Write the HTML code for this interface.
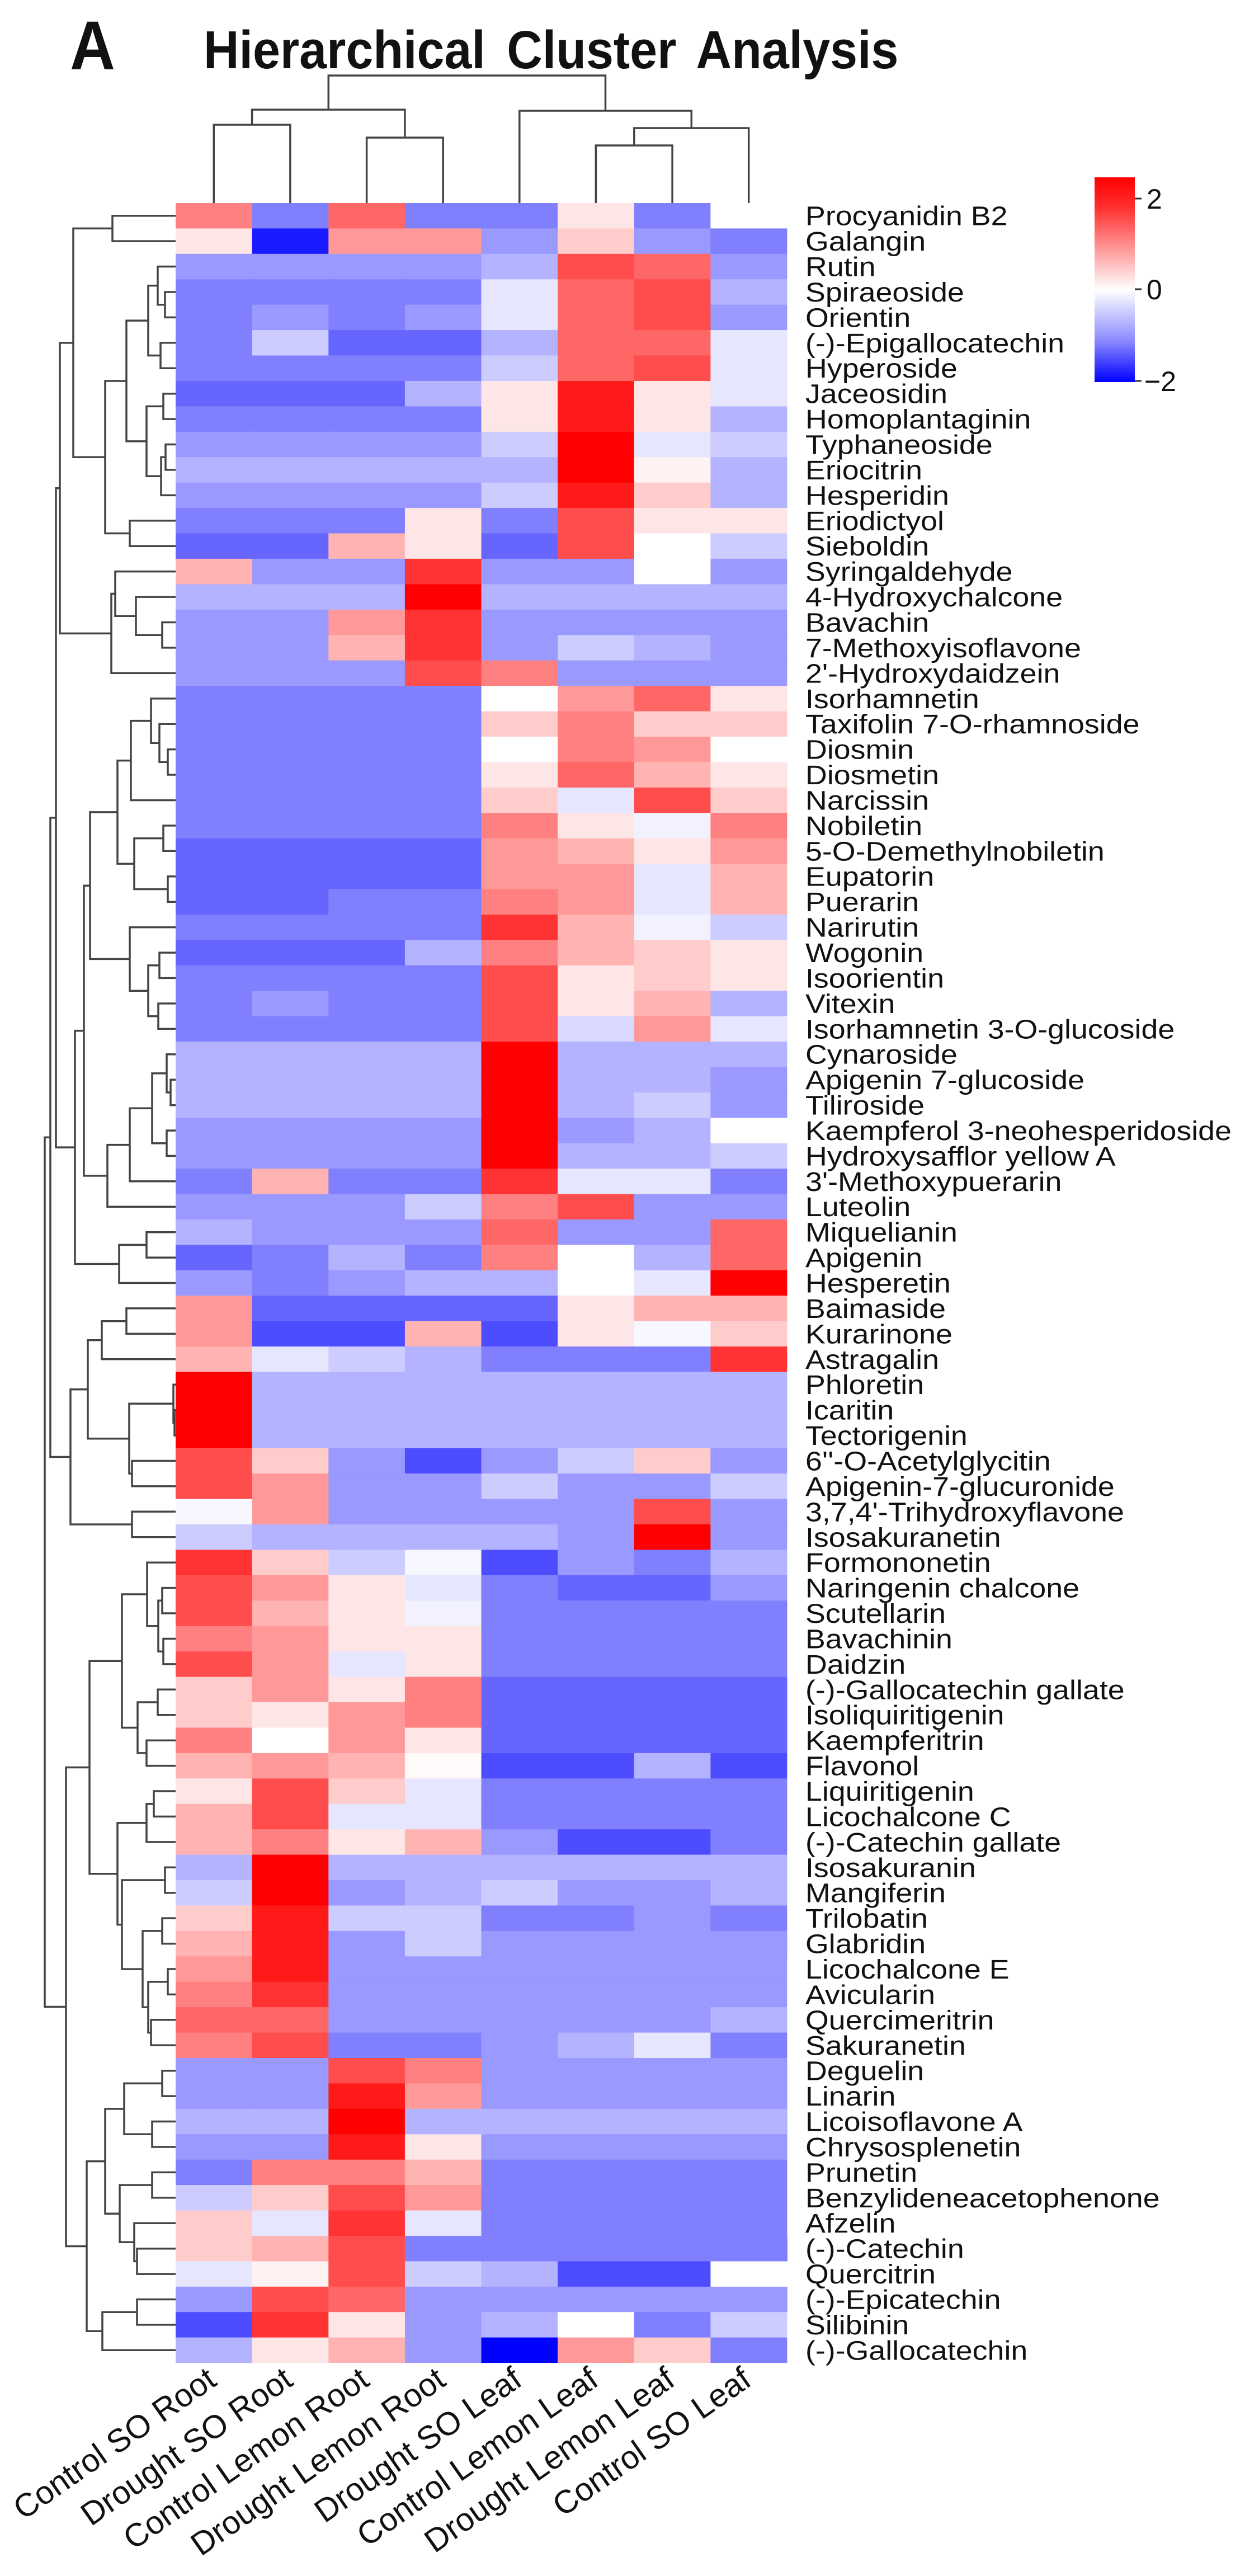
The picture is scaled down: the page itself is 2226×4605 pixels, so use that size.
<!DOCTYPE html>
<html><head><meta charset="utf-8">
<style>
html,body{margin:0;padding:0;background:#fff;}
svg{display:block;}
text{font-family:"Liberation Sans",Arial,sans-serif;fill:#111;}
.r10{fill:#ff0000}.r9{fill:#ff1a1a}.r8{fill:#ff3333}.r7{fill:#ff4d4d}.r6{fill:#ff6666}.r5{fill:#ff8080}.r4{fill:#ff9999}.r3{fill:#ffb3b3}.r2{fill:#ffcccc}.r1{fill:#ffe6e6}.rh{fill:#fff2f2}.wr{fill:#fffafa}.w{fill:#ffffff}.wb{fill:#f7f7ff}.bh{fill:#f2f2ff}.b1{fill:#e6e6ff}.b15{fill:#d9d9ff}.b2{fill:#ccccff}.b3{fill:#b3b3ff}.b4{fill:#9999ff}.b5{fill:#8080ff}.b6{fill:#6666ff}.b7{fill:#4d4dff}.b9{fill:#1a1aff}.b10{fill:#0000ff}
.L{font-size:48px}
.C{font-size:58px}
</style></head>
<body>
<svg xmlns="http://www.w3.org/2000/svg" width="2226" height="4605" viewBox="0 0 2226 4605">
<defs>
<linearGradient id="cb" x1="0" y1="0" x2="0" y2="1">
<stop offset="0" stop-color="#ff0000"/>
<stop offset="0.15" stop-color="#ff3030"/>
<stop offset="0.55" stop-color="#ffffff"/>
<stop offset="0.8" stop-color="#8a8aff"/>
<stop offset="1" stop-color="#0000ff"/>
</linearGradient>
</defs>
<rect width="2226" height="4605" fill="#fff"/>
<text x="125" y="123" font-size="112" font-weight="bold" transform="translate(0,-12) scale(1,1.1)">A</text>
<text x="364" y="112" font-size="88" font-weight="bold" word-spacing="14" transform="scale(1,1.09)">Hierarchical Cluster Analysis</text>
<rect x="1957" y="317" width="72" height="366" fill="url(#cb)"/>
<g stroke="#333" stroke-width="3">
<line x1="2029" y1="355" x2="2041" y2="355"/>
<line x1="2029" y1="517" x2="2041" y2="517"/>
<line x1="2029" y1="681" x2="2041" y2="681"/>
</g>
<text x="2050" y="373" font-size="50">2</text>
<text x="2050" y="535" font-size="50">0</text>
<text x="2046" y="699" font-size="50">−2</text>

<g transform="translate(0,363.0)"><rect x="314" width="138" height="46" class="r5"/><rect x="450.6" width="138" height="46" class="b5"/><rect x="587.3" width="138" height="46" class="r6"/><rect x="723.9" width="138" height="46" class="b5"/><rect x="860.5" width="138" height="46" class="b5"/><rect x="997.1" width="138" height="46" class="r1"/><rect x="1133.8" width="138" height="46" class="b5"/><rect x="1270.4" width="137" height="46" class="w"/><text class="L" transform="translate(1440,39.7) scale(1.12,1)">Procyanidin B2</text></g>
<g transform="translate(0,408.4)"><rect x="314" width="138" height="46" class="r1"/><rect x="450.6" width="138" height="46" class="b9"/><rect x="587.3" width="138" height="46" class="r4"/><rect x="723.9" width="138" height="46" class="r4"/><rect x="860.5" width="138" height="46" class="b4"/><rect x="997.1" width="138" height="46" class="r2"/><rect x="1133.8" width="138" height="46" class="b4"/><rect x="1270.4" width="137" height="46" class="b5"/><text class="L" transform="translate(1440,39.7) scale(1.12,1)">Galangin</text></g>
<g transform="translate(0,453.8)"><rect x="314" width="138" height="46" class="b4"/><rect x="450.6" width="138" height="46" class="b4"/><rect x="587.3" width="138" height="46" class="b4"/><rect x="723.9" width="138" height="46" class="b4"/><rect x="860.5" width="138" height="46" class="b3"/><rect x="997.1" width="138" height="46" class="r7"/><rect x="1133.8" width="138" height="46" class="r6"/><rect x="1270.4" width="137" height="46" class="b4"/><text class="L" transform="translate(1440,39.7) scale(1.12,1)">Rutin</text></g>
<g transform="translate(0,499.3)"><rect x="314" width="138" height="46" class="b5"/><rect x="450.6" width="138" height="46" class="b5"/><rect x="587.3" width="138" height="46" class="b5"/><rect x="723.9" width="138" height="46" class="b5"/><rect x="860.5" width="138" height="46" class="b1"/><rect x="997.1" width="138" height="46" class="r6"/><rect x="1133.8" width="138" height="46" class="r7"/><rect x="1270.4" width="137" height="46" class="b3"/><text class="L" transform="translate(1440,39.7) scale(1.12,1)">Spiraeoside</text></g>
<g transform="translate(0,544.7)"><rect x="314" width="138" height="46" class="b5"/><rect x="450.6" width="138" height="46" class="b4"/><rect x="587.3" width="138" height="46" class="b5"/><rect x="723.9" width="138" height="46" class="b4"/><rect x="860.5" width="138" height="46" class="b1"/><rect x="997.1" width="138" height="46" class="r6"/><rect x="1133.8" width="138" height="46" class="r7"/><rect x="1270.4" width="137" height="46" class="b4"/><text class="L" transform="translate(1440,39.7) scale(1.12,1)">Orientin</text></g>
<g transform="translate(0,590.1)"><rect x="314" width="138" height="46" class="b5"/><rect x="450.6" width="138" height="46" class="b2"/><rect x="587.3" width="138" height="46" class="b6"/><rect x="723.9" width="138" height="46" class="b6"/><rect x="860.5" width="138" height="46" class="b3"/><rect x="997.1" width="138" height="46" class="r6"/><rect x="1133.8" width="138" height="46" class="r6"/><rect x="1270.4" width="137" height="46" class="b1"/><text class="L" transform="translate(1440,39.7) scale(1.12,1)">(-)-Epigallocatechin</text></g>
<g transform="translate(0,635.5)"><rect x="314" width="138" height="46" class="b5"/><rect x="450.6" width="138" height="46" class="b5"/><rect x="587.3" width="138" height="46" class="b5"/><rect x="723.9" width="138" height="46" class="b5"/><rect x="860.5" width="138" height="46" class="b2"/><rect x="997.1" width="138" height="46" class="r6"/><rect x="1133.8" width="138" height="46" class="r7"/><rect x="1270.4" width="137" height="46" class="b1"/><text class="L" transform="translate(1440,39.7) scale(1.12,1)">Hyperoside</text></g>
<g transform="translate(0,681.0)"><rect x="314" width="138" height="46" class="b6"/><rect x="450.6" width="138" height="46" class="b6"/><rect x="587.3" width="138" height="46" class="b6"/><rect x="723.9" width="138" height="46" class="b3"/><rect x="860.5" width="138" height="46" class="r1"/><rect x="997.1" width="138" height="46" class="r9"/><rect x="1133.8" width="138" height="46" class="r1"/><rect x="1270.4" width="137" height="46" class="b1"/><text class="L" transform="translate(1440,39.7) scale(1.12,1)">Jaceosidin</text></g>
<g transform="translate(0,726.4)"><rect x="314" width="138" height="46" class="b5"/><rect x="450.6" width="138" height="46" class="b5"/><rect x="587.3" width="138" height="46" class="b5"/><rect x="723.9" width="138" height="46" class="b5"/><rect x="860.5" width="138" height="46" class="r1"/><rect x="997.1" width="138" height="46" class="r9"/><rect x="1133.8" width="138" height="46" class="r1"/><rect x="1270.4" width="137" height="46" class="b3"/><text class="L" transform="translate(1440,39.7) scale(1.12,1)">Homoplantaginin</text></g>
<g transform="translate(0,771.8)"><rect x="314" width="138" height="46" class="b4"/><rect x="450.6" width="138" height="46" class="b4"/><rect x="587.3" width="138" height="46" class="b4"/><rect x="723.9" width="138" height="46" class="b4"/><rect x="860.5" width="138" height="46" class="b2"/><rect x="997.1" width="138" height="46" class="r10"/><rect x="1133.8" width="138" height="46" class="b1"/><rect x="1270.4" width="137" height="46" class="b2"/><text class="L" transform="translate(1440,39.7) scale(1.12,1)">Typhaneoside</text></g>
<g transform="translate(0,817.2)"><rect x="314" width="138" height="46" class="b3"/><rect x="450.6" width="138" height="46" class="b3"/><rect x="587.3" width="138" height="46" class="b3"/><rect x="723.9" width="138" height="46" class="b3"/><rect x="860.5" width="138" height="46" class="b3"/><rect x="997.1" width="138" height="46" class="r10"/><rect x="1133.8" width="138" height="46" class="rh"/><rect x="1270.4" width="137" height="46" class="b3"/><text class="L" transform="translate(1440,39.7) scale(1.12,1)">Eriocitrin</text></g>
<g transform="translate(0,862.7)"><rect x="314" width="138" height="46" class="b4"/><rect x="450.6" width="138" height="46" class="b4"/><rect x="587.3" width="138" height="46" class="b4"/><rect x="723.9" width="138" height="46" class="b4"/><rect x="860.5" width="138" height="46" class="b2"/><rect x="997.1" width="138" height="46" class="r9"/><rect x="1133.8" width="138" height="46" class="r2"/><rect x="1270.4" width="137" height="46" class="b3"/><text class="L" transform="translate(1440,39.7) scale(1.12,1)">Hesperidin</text></g>
<g transform="translate(0,908.1)"><rect x="314" width="138" height="46" class="b5"/><rect x="450.6" width="138" height="46" class="b5"/><rect x="587.3" width="138" height="46" class="b5"/><rect x="723.9" width="138" height="46" class="r1"/><rect x="860.5" width="138" height="46" class="b5"/><rect x="997.1" width="138" height="46" class="r7"/><rect x="1133.8" width="138" height="46" class="r1"/><rect x="1270.4" width="137" height="46" class="r1"/><text class="L" transform="translate(1440,39.7) scale(1.12,1)">Eriodictyol</text></g>
<g transform="translate(0,953.5)"><rect x="314" width="138" height="46" class="b6"/><rect x="450.6" width="138" height="46" class="b6"/><rect x="587.3" width="138" height="46" class="r3"/><rect x="723.9" width="138" height="46" class="r1"/><rect x="860.5" width="138" height="46" class="b6"/><rect x="997.1" width="138" height="46" class="r7"/><rect x="1133.8" width="138" height="46" class="w"/><rect x="1270.4" width="137" height="46" class="b2"/><text class="L" transform="translate(1440,39.7) scale(1.12,1)">Sieboldin</text></g>
<g transform="translate(0,998.9)"><rect x="314" width="138" height="46" class="r3"/><rect x="450.6" width="138" height="46" class="b4"/><rect x="587.3" width="138" height="46" class="b4"/><rect x="723.9" width="138" height="46" class="r8"/><rect x="860.5" width="138" height="46" class="b4"/><rect x="997.1" width="138" height="46" class="b4"/><rect x="1133.8" width="138" height="46" class="w"/><rect x="1270.4" width="137" height="46" class="b4"/><text class="L" transform="translate(1440,39.7) scale(1.12,1)">Syringaldehyde</text></g>
<g transform="translate(0,1044.4)"><rect x="314" width="138" height="46" class="b3"/><rect x="450.6" width="138" height="46" class="b3"/><rect x="587.3" width="138" height="46" class="b3"/><rect x="723.9" width="138" height="46" class="r10"/><rect x="860.5" width="138" height="46" class="b3"/><rect x="997.1" width="138" height="46" class="b3"/><rect x="1133.8" width="138" height="46" class="b3"/><rect x="1270.4" width="137" height="46" class="b3"/><text class="L" transform="translate(1440,39.7) scale(1.12,1)">4-Hydroxychalcone</text></g>
<g transform="translate(0,1089.8)"><rect x="314" width="138" height="46" class="b4"/><rect x="450.6" width="138" height="46" class="b4"/><rect x="587.3" width="138" height="46" class="r4"/><rect x="723.9" width="138" height="46" class="r8"/><rect x="860.5" width="138" height="46" class="b4"/><rect x="997.1" width="138" height="46" class="b4"/><rect x="1133.8" width="138" height="46" class="b4"/><rect x="1270.4" width="137" height="46" class="b4"/><text class="L" transform="translate(1440,39.7) scale(1.12,1)">Bavachin</text></g>
<g transform="translate(0,1135.2)"><rect x="314" width="138" height="46" class="b4"/><rect x="450.6" width="138" height="46" class="b4"/><rect x="587.3" width="138" height="46" class="r3"/><rect x="723.9" width="138" height="46" class="r8"/><rect x="860.5" width="138" height="46" class="b4"/><rect x="997.1" width="138" height="46" class="b2"/><rect x="1133.8" width="138" height="46" class="b3"/><rect x="1270.4" width="137" height="46" class="b4"/><text class="L" transform="translate(1440,39.7) scale(1.12,1)">7-Methoxyisoflavone</text></g>
<g transform="translate(0,1180.6)"><rect x="314" width="138" height="46" class="b4"/><rect x="450.6" width="138" height="46" class="b4"/><rect x="587.3" width="138" height="46" class="b4"/><rect x="723.9" width="138" height="46" class="r7"/><rect x="860.5" width="138" height="46" class="r5"/><rect x="997.1" width="138" height="46" class="b4"/><rect x="1133.8" width="138" height="46" class="b4"/><rect x="1270.4" width="137" height="46" class="b4"/><text class="L" transform="translate(1440,39.7) scale(1.12,1)">2'-Hydroxydaidzein</text></g>
<g transform="translate(0,1226.1)"><rect x="314" width="138" height="46" class="b5"/><rect x="450.6" width="138" height="46" class="b5"/><rect x="587.3" width="138" height="46" class="b5"/><rect x="723.9" width="138" height="46" class="b5"/><rect x="860.5" width="138" height="46" class="w"/><rect x="997.1" width="138" height="46" class="r4"/><rect x="1133.8" width="138" height="46" class="r6"/><rect x="1270.4" width="137" height="46" class="r1"/><text class="L" transform="translate(1440,39.7) scale(1.12,1)">Isorhamnetin</text></g>
<g transform="translate(0,1271.5)"><rect x="314" width="138" height="46" class="b5"/><rect x="450.6" width="138" height="46" class="b5"/><rect x="587.3" width="138" height="46" class="b5"/><rect x="723.9" width="138" height="46" class="b5"/><rect x="860.5" width="138" height="46" class="r2"/><rect x="997.1" width="138" height="46" class="r5"/><rect x="1133.8" width="138" height="46" class="r2"/><rect x="1270.4" width="137" height="46" class="r2"/><text class="L" transform="translate(1440,39.7) scale(1.12,1)">Taxifolin 7-O-rhamnoside</text></g>
<g transform="translate(0,1316.9)"><rect x="314" width="138" height="46" class="b5"/><rect x="450.6" width="138" height="46" class="b5"/><rect x="587.3" width="138" height="46" class="b5"/><rect x="723.9" width="138" height="46" class="b5"/><rect x="860.5" width="138" height="46" class="w"/><rect x="997.1" width="138" height="46" class="r5"/><rect x="1133.8" width="138" height="46" class="r4"/><rect x="1270.4" width="137" height="46" class="w"/><text class="L" transform="translate(1440,39.7) scale(1.12,1)">Diosmin</text></g>
<g transform="translate(0,1362.3)"><rect x="314" width="138" height="46" class="b5"/><rect x="450.6" width="138" height="46" class="b5"/><rect x="587.3" width="138" height="46" class="b5"/><rect x="723.9" width="138" height="46" class="b5"/><rect x="860.5" width="138" height="46" class="r1"/><rect x="997.1" width="138" height="46" class="r6"/><rect x="1133.8" width="138" height="46" class="r3"/><rect x="1270.4" width="137" height="46" class="r1"/><text class="L" transform="translate(1440,39.7) scale(1.12,1)">Diosmetin</text></g>
<g transform="translate(0,1407.8)"><rect x="314" width="138" height="46" class="b5"/><rect x="450.6" width="138" height="46" class="b5"/><rect x="587.3" width="138" height="46" class="b5"/><rect x="723.9" width="138" height="46" class="b5"/><rect x="860.5" width="138" height="46" class="r2"/><rect x="997.1" width="138" height="46" class="b1"/><rect x="1133.8" width="138" height="46" class="r7"/><rect x="1270.4" width="137" height="46" class="r2"/><text class="L" transform="translate(1440,39.7) scale(1.12,1)">Narcissin</text></g>
<g transform="translate(0,1453.2)"><rect x="314" width="138" height="46" class="b5"/><rect x="450.6" width="138" height="46" class="b5"/><rect x="587.3" width="138" height="46" class="b5"/><rect x="723.9" width="138" height="46" class="b5"/><rect x="860.5" width="138" height="46" class="r5"/><rect x="997.1" width="138" height="46" class="r1"/><rect x="1133.8" width="138" height="46" class="bh"/><rect x="1270.4" width="137" height="46" class="r5"/><text class="L" transform="translate(1440,39.7) scale(1.12,1)">Nobiletin</text></g>
<g transform="translate(0,1498.6)"><rect x="314" width="138" height="46" class="b6"/><rect x="450.6" width="138" height="46" class="b6"/><rect x="587.3" width="138" height="46" class="b6"/><rect x="723.9" width="138" height="46" class="b6"/><rect x="860.5" width="138" height="46" class="r4"/><rect x="997.1" width="138" height="46" class="r3"/><rect x="1133.8" width="138" height="46" class="r1"/><rect x="1270.4" width="137" height="46" class="r4"/><text class="L" transform="translate(1440,39.7) scale(1.12,1)">5-O-Demethylnobiletin</text></g>
<g transform="translate(0,1544.0)"><rect x="314" width="138" height="46" class="b6"/><rect x="450.6" width="138" height="46" class="b6"/><rect x="587.3" width="138" height="46" class="b6"/><rect x="723.9" width="138" height="46" class="b6"/><rect x="860.5" width="138" height="46" class="r4"/><rect x="997.1" width="138" height="46" class="r4"/><rect x="1133.8" width="138" height="46" class="b1"/><rect x="1270.4" width="137" height="46" class="r3"/><text class="L" transform="translate(1440,39.7) scale(1.12,1)">Eupatorin</text></g>
<g transform="translate(0,1589.5)"><rect x="314" width="138" height="46" class="b6"/><rect x="450.6" width="138" height="46" class="b6"/><rect x="587.3" width="138" height="46" class="b5"/><rect x="723.9" width="138" height="46" class="b5"/><rect x="860.5" width="138" height="46" class="r5"/><rect x="997.1" width="138" height="46" class="r4"/><rect x="1133.8" width="138" height="46" class="b1"/><rect x="1270.4" width="137" height="46" class="r3"/><text class="L" transform="translate(1440,39.7) scale(1.12,1)">Puerarin</text></g>
<g transform="translate(0,1634.9)"><rect x="314" width="138" height="46" class="b5"/><rect x="450.6" width="138" height="46" class="b5"/><rect x="587.3" width="138" height="46" class="b5"/><rect x="723.9" width="138" height="46" class="b5"/><rect x="860.5" width="138" height="46" class="r8"/><rect x="997.1" width="138" height="46" class="r3"/><rect x="1133.8" width="138" height="46" class="bh"/><rect x="1270.4" width="137" height="46" class="b2"/><text class="L" transform="translate(1440,39.7) scale(1.12,1)">Narirutin</text></g>
<g transform="translate(0,1680.3)"><rect x="314" width="138" height="46" class="b6"/><rect x="450.6" width="138" height="46" class="b6"/><rect x="587.3" width="138" height="46" class="b6"/><rect x="723.9" width="138" height="46" class="b3"/><rect x="860.5" width="138" height="46" class="r5"/><rect x="997.1" width="138" height="46" class="r3"/><rect x="1133.8" width="138" height="46" class="r2"/><rect x="1270.4" width="137" height="46" class="r1"/><text class="L" transform="translate(1440,39.7) scale(1.12,1)">Wogonin</text></g>
<g transform="translate(0,1725.7)"><rect x="314" width="138" height="46" class="b5"/><rect x="450.6" width="138" height="46" class="b5"/><rect x="587.3" width="138" height="46" class="b5"/><rect x="723.9" width="138" height="46" class="b5"/><rect x="860.5" width="138" height="46" class="r7"/><rect x="997.1" width="138" height="46" class="r1"/><rect x="1133.8" width="138" height="46" class="r2"/><rect x="1270.4" width="137" height="46" class="r1"/><text class="L" transform="translate(1440,39.7) scale(1.12,1)">Isoorientin</text></g>
<g transform="translate(0,1771.2)"><rect x="314" width="138" height="46" class="b5"/><rect x="450.6" width="138" height="46" class="b4"/><rect x="587.3" width="138" height="46" class="b5"/><rect x="723.9" width="138" height="46" class="b5"/><rect x="860.5" width="138" height="46" class="r7"/><rect x="997.1" width="138" height="46" class="r1"/><rect x="1133.8" width="138" height="46" class="r3"/><rect x="1270.4" width="137" height="46" class="b3"/><text class="L" transform="translate(1440,39.7) scale(1.12,1)">Vitexin</text></g>
<g transform="translate(0,1816.6)"><rect x="314" width="138" height="46" class="b5"/><rect x="450.6" width="138" height="46" class="b5"/><rect x="587.3" width="138" height="46" class="b5"/><rect x="723.9" width="138" height="46" class="b5"/><rect x="860.5" width="138" height="46" class="r7"/><rect x="997.1" width="138" height="46" class="b15"/><rect x="1133.8" width="138" height="46" class="r4"/><rect x="1270.4" width="137" height="46" class="b1"/><text class="L" transform="translate(1440,39.7) scale(1.12,1)">Isorhamnetin 3-O-glucoside</text></g>
<g transform="translate(0,1862.0)"><rect x="314" width="138" height="46" class="b3"/><rect x="450.6" width="138" height="46" class="b3"/><rect x="587.3" width="138" height="46" class="b3"/><rect x="723.9" width="138" height="46" class="b3"/><rect x="860.5" width="138" height="46" class="r10"/><rect x="997.1" width="138" height="46" class="b3"/><rect x="1133.8" width="138" height="46" class="b3"/><rect x="1270.4" width="137" height="46" class="b3"/><text class="L" transform="translate(1440,39.7) scale(1.12,1)">Cynaroside</text></g>
<g transform="translate(0,1907.4)"><rect x="314" width="138" height="46" class="b3"/><rect x="450.6" width="138" height="46" class="b3"/><rect x="587.3" width="138" height="46" class="b3"/><rect x="723.9" width="138" height="46" class="b3"/><rect x="860.5" width="138" height="46" class="r10"/><rect x="997.1" width="138" height="46" class="b3"/><rect x="1133.8" width="138" height="46" class="b3"/><rect x="1270.4" width="137" height="46" class="b4"/><text class="L" transform="translate(1440,39.7) scale(1.12,1)">Apigenin 7-glucoside</text></g>
<g transform="translate(0,1952.9)"><rect x="314" width="138" height="46" class="b3"/><rect x="450.6" width="138" height="46" class="b3"/><rect x="587.3" width="138" height="46" class="b3"/><rect x="723.9" width="138" height="46" class="b3"/><rect x="860.5" width="138" height="46" class="r10"/><rect x="997.1" width="138" height="46" class="b3"/><rect x="1133.8" width="138" height="46" class="b2"/><rect x="1270.4" width="137" height="46" class="b4"/><text class="L" transform="translate(1440,39.7) scale(1.12,1)">Tiliroside</text></g>
<g transform="translate(0,1998.3)"><rect x="314" width="138" height="46" class="b4"/><rect x="450.6" width="138" height="46" class="b4"/><rect x="587.3" width="138" height="46" class="b4"/><rect x="723.9" width="138" height="46" class="b4"/><rect x="860.5" width="138" height="46" class="r10"/><rect x="997.1" width="138" height="46" class="b4"/><rect x="1133.8" width="138" height="46" class="b3"/><rect x="1270.4" width="137" height="46" class="w"/><text class="L" transform="translate(1440,39.7) scale(1.12,1)">Kaempferol 3-neohesperidoside</text></g>
<g transform="translate(0,2043.7)"><rect x="314" width="138" height="46" class="b4"/><rect x="450.6" width="138" height="46" class="b4"/><rect x="587.3" width="138" height="46" class="b4"/><rect x="723.9" width="138" height="46" class="b4"/><rect x="860.5" width="138" height="46" class="r10"/><rect x="997.1" width="138" height="46" class="b3"/><rect x="1133.8" width="138" height="46" class="b3"/><rect x="1270.4" width="137" height="46" class="b2"/><text class="L" transform="translate(1440,39.7) scale(1.12,1)">Hydroxysafflor yellow A</text></g>
<g transform="translate(0,2089.1)"><rect x="314" width="138" height="46" class="b5"/><rect x="450.6" width="138" height="46" class="r3"/><rect x="587.3" width="138" height="46" class="b5"/><rect x="723.9" width="138" height="46" class="b5"/><rect x="860.5" width="138" height="46" class="r8"/><rect x="997.1" width="138" height="46" class="b1"/><rect x="1133.8" width="138" height="46" class="b1"/><rect x="1270.4" width="137" height="46" class="b5"/><text class="L" transform="translate(1440,39.7) scale(1.12,1)">3'-Methoxypuerarin</text></g>
<g transform="translate(0,2134.5)"><rect x="314" width="138" height="46" class="b4"/><rect x="450.6" width="138" height="46" class="b4"/><rect x="587.3" width="138" height="46" class="b4"/><rect x="723.9" width="138" height="46" class="b2"/><rect x="860.5" width="138" height="46" class="r5"/><rect x="997.1" width="138" height="46" class="r7"/><rect x="1133.8" width="138" height="46" class="b4"/><rect x="1270.4" width="137" height="46" class="b4"/><text class="L" transform="translate(1440,39.7) scale(1.12,1)">Luteolin</text></g>
<g transform="translate(0,2180.0)"><rect x="314" width="138" height="46" class="b3"/><rect x="450.6" width="138" height="46" class="b4"/><rect x="587.3" width="138" height="46" class="b4"/><rect x="723.9" width="138" height="46" class="b4"/><rect x="860.5" width="138" height="46" class="r6"/><rect x="997.1" width="138" height="46" class="b4"/><rect x="1133.8" width="138" height="46" class="b4"/><rect x="1270.4" width="137" height="46" class="r6"/><text class="L" transform="translate(1440,39.7) scale(1.12,1)">Miquelianin</text></g>
<g transform="translate(0,2225.4)"><rect x="314" width="138" height="46" class="b6"/><rect x="450.6" width="138" height="46" class="b5"/><rect x="587.3" width="138" height="46" class="b3"/><rect x="723.9" width="138" height="46" class="b5"/><rect x="860.5" width="138" height="46" class="r5"/><rect x="997.1" width="138" height="46" class="w"/><rect x="1133.8" width="138" height="46" class="b3"/><rect x="1270.4" width="137" height="46" class="r6"/><text class="L" transform="translate(1440,39.7) scale(1.12,1)">Apigenin</text></g>
<g transform="translate(0,2270.8)"><rect x="314" width="138" height="46" class="b4"/><rect x="450.6" width="138" height="46" class="b5"/><rect x="587.3" width="138" height="46" class="b4"/><rect x="723.9" width="138" height="46" class="b3"/><rect x="860.5" width="138" height="46" class="b3"/><rect x="997.1" width="138" height="46" class="w"/><rect x="1133.8" width="138" height="46" class="b1"/><rect x="1270.4" width="137" height="46" class="r10"/><text class="L" transform="translate(1440,39.7) scale(1.12,1)">Hesperetin</text></g>
<g transform="translate(0,2316.2)"><rect x="314" width="138" height="46" class="r4"/><rect x="450.6" width="138" height="46" class="b6"/><rect x="587.3" width="138" height="46" class="b6"/><rect x="723.9" width="138" height="46" class="b6"/><rect x="860.5" width="138" height="46" class="b6"/><rect x="997.1" width="138" height="46" class="r1"/><rect x="1133.8" width="138" height="46" class="r3"/><rect x="1270.4" width="137" height="46" class="r3"/><text class="L" transform="translate(1440,39.7) scale(1.12,1)">Baimaside</text></g>
<g transform="translate(0,2361.7)"><rect x="314" width="138" height="46" class="r4"/><rect x="450.6" width="138" height="46" class="b7"/><rect x="587.3" width="138" height="46" class="b7"/><rect x="723.9" width="138" height="46" class="r3"/><rect x="860.5" width="138" height="46" class="b7"/><rect x="997.1" width="138" height="46" class="r1"/><rect x="1133.8" width="138" height="46" class="wb"/><rect x="1270.4" width="137" height="46" class="r2"/><text class="L" transform="translate(1440,39.7) scale(1.12,1)">Kurarinone</text></g>
<g transform="translate(0,2407.1)"><rect x="314" width="138" height="46" class="r3"/><rect x="450.6" width="138" height="46" class="b1"/><rect x="587.3" width="138" height="46" class="b2"/><rect x="723.9" width="138" height="46" class="b3"/><rect x="860.5" width="138" height="46" class="b5"/><rect x="997.1" width="138" height="46" class="b5"/><rect x="1133.8" width="138" height="46" class="b5"/><rect x="1270.4" width="137" height="46" class="r8"/><text class="L" transform="translate(1440,39.7) scale(1.12,1)">Astragalin</text></g>
<g transform="translate(0,2452.5)"><rect x="314" width="138" height="46" class="r10"/><rect x="450.6" width="957" height="46" class="b3"/><text class="L" transform="translate(1440,39.7) scale(1.12,1)">Phloretin</text></g>
<g transform="translate(0,2497.9)"><rect x="314" width="138" height="46" class="r10"/><rect x="450.6" width="957" height="46" class="b3"/><text class="L" transform="translate(1440,39.7) scale(1.12,1)">Icaritin</text></g>
<g transform="translate(0,2543.4)"><rect x="314" width="138" height="46" class="r10"/><rect x="450.6" width="957" height="46" class="b3"/><text class="L" transform="translate(1440,39.7) scale(1.12,1)">Tectorigenin</text></g>
<g transform="translate(0,2588.8)"><rect x="314" width="138" height="46" class="r7"/><rect x="450.6" width="138" height="46" class="r2"/><rect x="587.3" width="138" height="46" class="b4"/><rect x="723.9" width="138" height="46" class="b7"/><rect x="860.5" width="138" height="46" class="b4"/><rect x="997.1" width="138" height="46" class="b2"/><rect x="1133.8" width="138" height="46" class="r2"/><rect x="1270.4" width="137" height="46" class="b4"/><text class="L" transform="translate(1440,39.7) scale(1.12,1)">6''-O-Acetylglycitin</text></g>
<g transform="translate(0,2634.2)"><rect x="314" width="138" height="46" class="r7"/><rect x="450.6" width="138" height="46" class="r4"/><rect x="587.3" width="138" height="46" class="b4"/><rect x="723.9" width="138" height="46" class="b4"/><rect x="860.5" width="138" height="46" class="b2"/><rect x="997.1" width="138" height="46" class="b4"/><rect x="1133.8" width="138" height="46" class="b4"/><rect x="1270.4" width="137" height="46" class="b2"/><text class="L" transform="translate(1440,39.7) scale(1.12,1)">Apigenin-7-glucuronide</text></g>
<g transform="translate(0,2679.6)"><rect x="314" width="138" height="46" class="wb"/><rect x="450.6" width="138" height="46" class="r4"/><rect x="587.3" width="138" height="46" class="b4"/><rect x="723.9" width="138" height="46" class="b4"/><rect x="860.5" width="138" height="46" class="b4"/><rect x="997.1" width="138" height="46" class="b4"/><rect x="1133.8" width="138" height="46" class="r7"/><rect x="1270.4" width="137" height="46" class="b4"/><text class="L" transform="translate(1440,39.7) scale(1.12,1)">3,7,4'-Trihydroxyflavone</text></g>
<g transform="translate(0,2725.1)"><rect x="314" width="138" height="46" class="b2"/><rect x="450.6" width="138" height="46" class="b3"/><rect x="587.3" width="138" height="46" class="b3"/><rect x="723.9" width="138" height="46" class="b3"/><rect x="860.5" width="138" height="46" class="b3"/><rect x="997.1" width="138" height="46" class="b4"/><rect x="1133.8" width="138" height="46" class="r10"/><rect x="1270.4" width="137" height="46" class="b4"/><text class="L" transform="translate(1440,39.7) scale(1.12,1)">Isosakuranetin</text></g>
<g transform="translate(0,2770.5)"><rect x="314" width="138" height="46" class="r8"/><rect x="450.6" width="138" height="46" class="r2"/><rect x="587.3" width="138" height="46" class="b2"/><rect x="723.9" width="138" height="46" class="wb"/><rect x="860.5" width="138" height="46" class="b7"/><rect x="997.1" width="138" height="46" class="b4"/><rect x="1133.8" width="138" height="46" class="b5"/><rect x="1270.4" width="137" height="46" class="b3"/><text class="L" transform="translate(1440,39.7) scale(1.12,1)">Formononetin</text></g>
<g transform="translate(0,2815.9)"><rect x="314" width="138" height="46" class="r7"/><rect x="450.6" width="138" height="46" class="r4"/><rect x="587.3" width="138" height="46" class="r1"/><rect x="723.9" width="138" height="46" class="b1"/><rect x="860.5" width="138" height="46" class="b5"/><rect x="997.1" width="138" height="46" class="b6"/><rect x="1133.8" width="138" height="46" class="b6"/><rect x="1270.4" width="137" height="46" class="b4"/><text class="L" transform="translate(1440,39.7) scale(1.12,1)">Naringenin chalcone</text></g>
<g transform="translate(0,2861.3)"><rect x="314" width="138" height="46" class="r7"/><rect x="450.6" width="138" height="46" class="r3"/><rect x="587.3" width="138" height="46" class="r1"/><rect x="723.9" width="138" height="46" class="bh"/><rect x="860.5" width="547" height="46" class="b5"/><text class="L" transform="translate(1440,39.7) scale(1.12,1)">Scutellarin</text></g>
<g transform="translate(0,2906.8)"><rect x="314" width="138" height="46" class="r5"/><rect x="450.6" width="138" height="46" class="r4"/><rect x="587.3" width="138" height="46" class="r1"/><rect x="723.9" width="138" height="46" class="r1"/><rect x="860.5" width="547" height="46" class="b5"/><text class="L" transform="translate(1440,39.7) scale(1.12,1)">Bavachinin</text></g>
<g transform="translate(0,2952.2)"><rect x="314" width="138" height="46" class="r7"/><rect x="450.6" width="138" height="46" class="r4"/><rect x="587.3" width="138" height="46" class="b1"/><rect x="723.9" width="138" height="46" class="r1"/><rect x="860.5" width="547" height="46" class="b5"/><text class="L" transform="translate(1440,39.7) scale(1.12,1)">Daidzin</text></g>
<g transform="translate(0,2997.6)"><rect x="314" width="138" height="46" class="r2"/><rect x="450.6" width="138" height="46" class="r4"/><rect x="587.3" width="138" height="46" class="r1"/><rect x="723.9" width="138" height="46" class="r5"/><rect x="860.5" width="547" height="46" class="b6"/><text class="L" transform="translate(1440,39.7) scale(1.12,1)">(-)-Gallocatechin gallate</text></g>
<g transform="translate(0,3043.0)"><rect x="314" width="138" height="46" class="r2"/><rect x="450.6" width="138" height="46" class="r1"/><rect x="587.3" width="138" height="46" class="r4"/><rect x="723.9" width="138" height="46" class="r5"/><rect x="860.5" width="547" height="46" class="b6"/><text class="L" transform="translate(1440,39.7) scale(1.12,1)">Isoliquiritigenin</text></g>
<g transform="translate(0,3088.5)"><rect x="314" width="138" height="46" class="r5"/><rect x="450.6" width="138" height="46" class="w"/><rect x="587.3" width="138" height="46" class="r4"/><rect x="723.9" width="138" height="46" class="r1"/><rect x="860.5" width="547" height="46" class="b6"/><text class="L" transform="translate(1440,39.7) scale(1.12,1)">Kaempferitrin</text></g>
<g transform="translate(0,3133.9)"><rect x="314" width="138" height="46" class="r3"/><rect x="450.6" width="138" height="46" class="r4"/><rect x="587.3" width="138" height="46" class="r3"/><rect x="723.9" width="138" height="46" class="wr"/><rect x="860.5" width="138" height="46" class="b7"/><rect x="997.1" width="138" height="46" class="b7"/><rect x="1133.8" width="138" height="46" class="b3"/><rect x="1270.4" width="137" height="46" class="b7"/><text class="L" transform="translate(1440,39.7) scale(1.12,1)">Flavonol</text></g>
<g transform="translate(0,3179.3)"><rect x="314" width="138" height="46" class="r1"/><rect x="450.6" width="138" height="46" class="r7"/><rect x="587.3" width="138" height="46" class="r2"/><rect x="723.9" width="138" height="46" class="b1"/><rect x="860.5" width="547" height="46" class="b5"/><text class="L" transform="translate(1440,39.7) scale(1.12,1)">Liquiritigenin</text></g>
<g transform="translate(0,3224.7)"><rect x="314" width="138" height="46" class="r3"/><rect x="450.6" width="138" height="46" class="r7"/><rect x="587.3" width="138" height="46" class="b1"/><rect x="723.9" width="138" height="46" class="b1"/><rect x="860.5" width="547" height="46" class="b5"/><text class="L" transform="translate(1440,39.7) scale(1.12,1)">Licochalcone C</text></g>
<g transform="translate(0,3270.2)"><rect x="314" width="138" height="46" class="r3"/><rect x="450.6" width="138" height="46" class="r5"/><rect x="587.3" width="138" height="46" class="r1"/><rect x="723.9" width="138" height="46" class="r3"/><rect x="860.5" width="138" height="46" class="b4"/><rect x="997.1" width="138" height="46" class="b7"/><rect x="1133.8" width="138" height="46" class="b7"/><rect x="1270.4" width="137" height="46" class="b5"/><text class="L" transform="translate(1440,39.7) scale(1.12,1)">(-)-Catechin gallate</text></g>
<g transform="translate(0,3315.6)"><rect x="314" width="138" height="46" class="b3"/><rect x="450.6" width="138" height="46" class="r10"/><rect x="587.3" width="820" height="46" class="b3"/><text class="L" transform="translate(1440,39.7) scale(1.12,1)">Isosakuranin</text></g>
<g transform="translate(0,3361.0)"><rect x="314" width="138" height="46" class="b2"/><rect x="450.6" width="138" height="46" class="r10"/><rect x="587.3" width="138" height="46" class="b4"/><rect x="723.9" width="138" height="46" class="b3"/><rect x="860.5" width="138" height="46" class="b2"/><rect x="997.1" width="138" height="46" class="b4"/><rect x="1133.8" width="138" height="46" class="b4"/><rect x="1270.4" width="137" height="46" class="b3"/><text class="L" transform="translate(1440,39.7) scale(1.12,1)">Mangiferin</text></g>
<g transform="translate(0,3406.4)"><rect x="314" width="138" height="46" class="r2"/><rect x="450.6" width="138" height="46" class="r9"/><rect x="587.3" width="138" height="46" class="b2"/><rect x="723.9" width="138" height="46" class="b2"/><rect x="860.5" width="138" height="46" class="b5"/><rect x="997.1" width="138" height="46" class="b5"/><rect x="1133.8" width="138" height="46" class="b4"/><rect x="1270.4" width="137" height="46" class="b5"/><text class="L" transform="translate(1440,39.7) scale(1.12,1)">Trilobatin</text></g>
<g transform="translate(0,3451.9)"><rect x="314" width="138" height="46" class="r3"/><rect x="450.6" width="138" height="46" class="r9"/><rect x="587.3" width="138" height="46" class="b4"/><rect x="723.9" width="138" height="46" class="b2"/><rect x="860.5" width="547" height="46" class="b4"/><text class="L" transform="translate(1440,39.7) scale(1.12,1)">Glabridin</text></g>
<g transform="translate(0,3497.3)"><rect x="314" width="138" height="46" class="r4"/><rect x="450.6" width="138" height="46" class="r9"/><rect x="587.3" width="820" height="46" class="b4"/><text class="L" transform="translate(1440,39.7) scale(1.12,1)">Licochalcone E</text></g>
<g transform="translate(0,3542.7)"><rect x="314" width="138" height="46" class="r5"/><rect x="450.6" width="138" height="46" class="r8"/><rect x="587.3" width="820" height="46" class="b4"/><text class="L" transform="translate(1440,39.7) scale(1.12,1)">Avicularin</text></g>
<g transform="translate(0,3588.1)"><rect x="314" width="138" height="46" class="r6"/><rect x="450.6" width="138" height="46" class="r6"/><rect x="587.3" width="684" height="46" class="b4"/><rect x="1270.4" width="137" height="46" class="b3"/><text class="L" transform="translate(1440,39.7) scale(1.12,1)">Quercimeritrin</text></g>
<g transform="translate(0,3633.6)"><rect x="314" width="138" height="46" class="r5"/><rect x="450.6" width="138" height="46" class="r7"/><rect x="587.3" width="138" height="46" class="b5"/><rect x="723.9" width="138" height="46" class="b5"/><rect x="860.5" width="138" height="46" class="b4"/><rect x="997.1" width="138" height="46" class="b3"/><rect x="1133.8" width="138" height="46" class="b1"/><rect x="1270.4" width="137" height="46" class="b5"/><text class="L" transform="translate(1440,39.7) scale(1.12,1)">Sakuranetin</text></g>
<g transform="translate(0,3679.0)"><rect x="314" width="138" height="46" class="b4"/><rect x="450.6" width="138" height="46" class="b4"/><rect x="587.3" width="138" height="46" class="r7"/><rect x="723.9" width="138" height="46" class="r5"/><rect x="860.5" width="547" height="46" class="b4"/><text class="L" transform="translate(1440,39.7) scale(1.12,1)">Deguelin</text></g>
<g transform="translate(0,3724.4)"><rect x="314" width="138" height="46" class="b4"/><rect x="450.6" width="138" height="46" class="b4"/><rect x="587.3" width="138" height="46" class="r9"/><rect x="723.9" width="138" height="46" class="r4"/><rect x="860.5" width="547" height="46" class="b4"/><text class="L" transform="translate(1440,39.7) scale(1.12,1)">Linarin</text></g>
<g transform="translate(0,3769.8)"><rect x="314" width="138" height="46" class="b3"/><rect x="450.6" width="138" height="46" class="b3"/><rect x="587.3" width="138" height="46" class="r10"/><rect x="723.9" width="684" height="46" class="b3"/><text class="L" transform="translate(1440,39.7) scale(1.12,1)">Licoisoflavone A</text></g>
<g transform="translate(0,3815.3)"><rect x="314" width="138" height="46" class="b4"/><rect x="450.6" width="138" height="46" class="b4"/><rect x="587.3" width="138" height="46" class="r9"/><rect x="723.9" width="138" height="46" class="r1"/><rect x="860.5" width="547" height="46" class="b4"/><text class="L" transform="translate(1440,39.7) scale(1.12,1)">Chrysosplenetin</text></g>
<g transform="translate(0,3860.7)"><rect x="314" width="138" height="46" class="b5"/><rect x="450.6" width="138" height="46" class="r5"/><rect x="587.3" width="138" height="46" class="r5"/><rect x="723.9" width="138" height="46" class="r3"/><rect x="860.5" width="547" height="46" class="b5"/><text class="L" transform="translate(1440,39.7) scale(1.12,1)">Prunetin</text></g>
<g transform="translate(0,3906.1)"><rect x="314" width="138" height="46" class="b2"/><rect x="450.6" width="138" height="46" class="r2"/><rect x="587.3" width="138" height="46" class="r7"/><rect x="723.9" width="138" height="46" class="r4"/><rect x="860.5" width="547" height="46" class="b5"/><text class="L" transform="translate(1440,39.7) scale(1.12,1)">Benzylideneacetophenone</text></g>
<g transform="translate(0,3951.5)"><rect x="314" width="138" height="46" class="r2"/><rect x="450.6" width="138" height="46" class="b1"/><rect x="587.3" width="138" height="46" class="r8"/><rect x="723.9" width="138" height="46" class="b1"/><rect x="860.5" width="547" height="46" class="b5"/><text class="L" transform="translate(1440,39.7) scale(1.12,1)">Afzelin</text></g>
<g transform="translate(0,3997.0)"><rect x="314" width="138" height="46" class="r2"/><rect x="450.6" width="138" height="46" class="r3"/><rect x="587.3" width="138" height="46" class="r7"/><rect x="723.9" width="684" height="46" class="b5"/><text class="L" transform="translate(1440,39.7) scale(1.12,1)">(-)-Catechin</text></g>
<g transform="translate(0,4042.4)"><rect x="314" width="138" height="46" class="b1"/><rect x="450.6" width="138" height="46" class="rh"/><rect x="587.3" width="138" height="46" class="r7"/><rect x="723.9" width="138" height="46" class="b2"/><rect x="860.5" width="138" height="46" class="b3"/><rect x="997.1" width="138" height="46" class="b7"/><rect x="1133.8" width="138" height="46" class="b7"/><rect x="1270.4" width="137" height="46" class="w"/><text class="L" transform="translate(1440,39.7) scale(1.12,1)">Quercitrin</text></g>
<g transform="translate(0,4087.8)"><rect x="314" width="138" height="46" class="b4"/><rect x="450.6" width="138" height="46" class="r7"/><rect x="587.3" width="138" height="46" class="r6"/><rect x="723.9" width="684" height="46" class="b4"/><text class="L" transform="translate(1440,39.7) scale(1.12,1)">(-)-Epicatechin</text></g>
<g transform="translate(0,4133.2)"><rect x="314" width="138" height="46" class="b7"/><rect x="450.6" width="138" height="46" class="r8"/><rect x="587.3" width="138" height="46" class="r1"/><rect x="723.9" width="138" height="46" class="b4"/><rect x="860.5" width="138" height="46" class="b3"/><rect x="997.1" width="138" height="46" class="w"/><rect x="1133.8" width="138" height="46" class="b5"/><rect x="1270.4" width="137" height="46" class="b2"/><text class="L" transform="translate(1440,39.7) scale(1.12,1)">Silibinin</text></g>
<g transform="translate(0,4178.6)"><rect x="314" width="138" height="45.5" class="b3"/><rect x="450.6" width="138" height="45.5" class="r1"/><rect x="587.3" width="138" height="45.5" class="r3"/><rect x="723.9" width="138" height="45.5" class="b4"/><rect x="860.5" width="138" height="45.5" class="b10"/><rect x="997.1" width="138" height="45.5" class="r4"/><rect x="1133.8" width="138" height="45.5" class="r2"/><rect x="1270.4" width="137" height="45.5" class="b5"/><text class="L" transform="translate(1440,39.7) scale(1.12,1)">(-)-Gallocatechin</text></g>

<g fill="none" stroke="#444" stroke-width="3.5">
<path d="M382.3 363V223H518.9V363 M655.6 363V246H792.2V363 M450.6 223V196H723.9V246 M1065.4 363V260H1202.1V363 M1338.7 363V229H1133.8V260 M928.8 363V198H1236.3V229 M587.3 196V135H1082.5V198"/>
<path d="M314 522H295V567.4H314 M314 476.5H282V544.7H295 M314 612.8H287V658.2H314 M282 510.6H265V635.5H287
M314 703.7H292V749.1H314 M314 794.5H296V839.9H314 M296 817.2H288V885.4H314 M292 726.4H262V851.3H288
M265 573.1H226V788.9H262 M314 930.8H232V976.2H314 M226 681H188V953.5H232 M314 385.7H201V431.1H314 M201 408.4H131V817.3H188
M314 1112.5H290V1157.9H314 M314 1067.1H243V1135.2H290 M314 1021.6H206V1101.2H243 M206 1061.4H199V1203.3H314 M131 612.9H107V1132.4H199
M314 1339.6H300V1385H314 M314 1294.2H285V1362.3H300 M314 1248.8H270V1328.3H285 M270 1288.6H234V1430.5H314
M314 1475.9H292V1521.3H314 M314 1566.7H300V1612.2H314 M292 1498.6H240V1589.5H300 M234 1359.6H210V1544.1H240
M314 1703H285V1748.4H314 M314 1793.9H283V1839.3H314 M285 1725.7H265V1816.6H283 M314 1657.6H232V1771.2H265 M210 1451.9H161V1714.4H232
M314 1930.1H305V1975.6H314 M314 1884.7H298V1952.9H305 M314 2021H298V2066.4H314 M298 1918.8H272V2043.7H298 M272 1981.3H232V2111.8H314 M232 2046.6H192V2157.2H314
M161 1583.2H150V2101.9H192 M314 2202.7H262V2248.1H314 M262 2225.4H213V2293.5H314 M150 1842.6H134V2259.5H213 M107 872.7H100V2051.1H134
M314 2338.9H226V2384.4H314 M226 2361.7H182V2429.8H314 M314 2520.6H312V2566.1H314 M314 2475.2H310V2543.4H312 M314 2611.5H236V2656.9H314 M310 2509.3H231V2634.2H236
M182 2395.8H157V2571.8H231 M314 2702.3H236V2747.8H314 M157 2483.8H126V2725.1H236 M100 1461.9H90V2604.5H126
M314 2838.6H290V2884H314 M314 2929.5H292V2974.9H314 M290 2861.3H283V2952.2H292 M314 2793.2H263V2906.8H283
M314 3020.3H282V3065.7H314 M314 3111.2H262V3156.6H314 M282 3043H246V3133.9H262 M263 2850H218V3088.5H246
M314 3202H275V3247.4H314 M275 3224.7H262V3292.9H314
M314 3338.3H295V3383.7H314 M314 3429.1H290V3474.6H314 M314 3520H300V3565.4H314 M314 3610.8H270V3656.3H314 M300 3542.7H265V3633.6H270 M290 3451.9H255V3588.2H265 M295 3361H218V3520.1H255
M262 3258.8H210V3440.6H218 M218 2969.3H160V3349.7H210
M314 3701.7H290V3747.1H314 M314 3792.5H272V3838H314 M290 3724.4H222V3815.3H272 M314 3883.4H272V3928.8H314 M314 4019.7H245V4065.1H314 M314 3974.2H240V4042.4H245 M272 3906.1H214V4008.3H240
M222 3769.9H188V3957.2H214 M314 4110.5H245V4155.9H314 M245 4133.2H183V4201.3H314 M188 3863.6H155V4167.3H183 M160 3159.5H118V4015.5H155 M90 2033.2H80V3587.5H118"/>
</g>

<g text-anchor="end">
<text class="C" transform="translate(390.3,4262) rotate(-35)">Control SO Root</text>
<text class="C" transform="translate(526.9,4262) rotate(-35)">Drought SO Root</text>
<text class="C" transform="translate(663.6,4262) rotate(-35)">Control Lemon Root</text>
<text class="C" transform="translate(800.2,4262) rotate(-35)">Drought Lemon Root</text>
<text class="C" transform="translate(936.8,4262) rotate(-35)">Drought SO Leaf</text>
<text class="C" transform="translate(1073.4,4262) rotate(-35)">Control Lemon Leaf</text>
<text class="C" transform="translate(1210.1,4262) rotate(-35)">Drought Lemon Leaf</text>
<text class="C" transform="translate(1346.7,4262) rotate(-35)">Control SO Leaf</text>
</g>
</svg>
</body></html>
